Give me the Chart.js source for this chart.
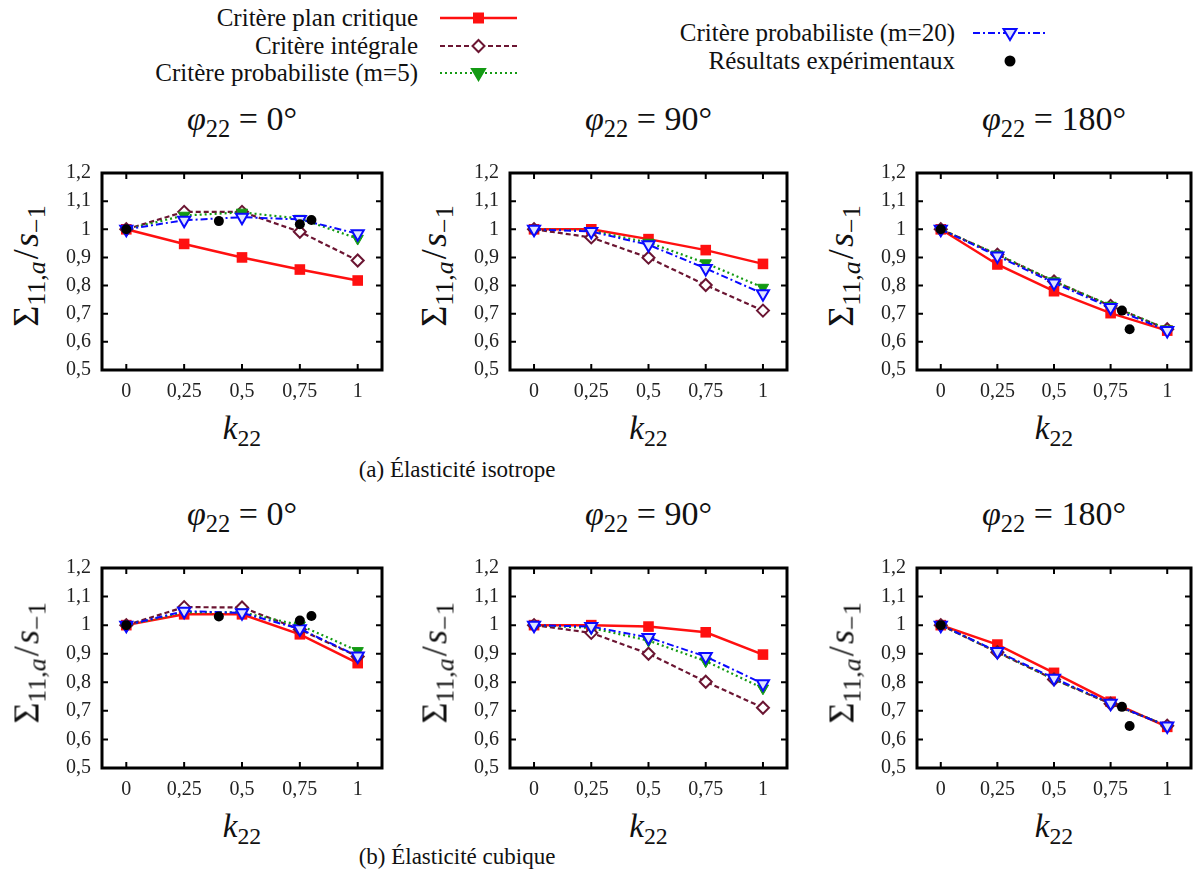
<!DOCTYPE html>
<html>
<head>
<meta charset="utf-8">
<script src="https://cdn.jsdelivr.net/npm/chart.js@4"></script>
<style>
  body { margin: 0; background: #fff; width: 1195px; height: 883px; overflow: hidden; position: relative; font-family: "Liberation Serif", "Times New Roman", "DejaVu Serif", serif; color: #111; }
  canvas { position: absolute; }
  .t { position: absolute; white-space: nowrap; line-height: 1; }
  .title { font-size: 34px; text-align: center; }
  .xt { font-size: 33px; text-align: center; }
  .yt { font-size: 36px; text-align: center; transform-origin: center center; transform: rotate(-90deg); }
  .cap { font-size: 23px; text-align: center; }
  .leg { font-size: 25px; text-align: right; }
  sub { font-size: 0.72em; vertical-align: -0.28em; line-height: 0; }
  .sl { margin: 0 0.06em; }
  svg { position: absolute; }
</style>
</head>
<body>
<script>
// k22 values shared by all panels
const k22 = [0, 0.25, 0.5, 0.75, 1];
const yTicks = [0.5, 0.6, 0.7, 0.8, 0.9, 1.0, 1.1, 1.2];

// (a) isotrope, phi = 0
const isoPhi0Plan = [1.0, 0.948, 0.900, 0.857, 0.818];
const isoPhi0Integ = [1.0, 1.062, 1.062, 0.991, 0.889];
const isoPhi0M5 = [1.0, 1.049, 1.060, 1.038, 0.967];
const isoPhi0M20 = [1.0, 1.032, 1.043, 1.035, 0.984];
const isoPhi0ExpK = [0, 0.40, 0.75, 0.80];
const isoPhi0ExpY = [1.0, 1.029, 1.018, 1.033];
// (a) isotrope, phi = 90
const isoPhi90Plan = [1.0, 1.0, 0.965, 0.926, 0.877];
const isoPhi90Integ = [1.0, 0.971, 0.899, 0.802, 0.711];
const isoPhi90M5 = [1.0, 0.995, 0.953, 0.880, 0.793];
const isoPhi90M20 = [1.0, 0.992, 0.945, 0.861, 0.771];
// (a) isotrope, phi = 180
const isoPhi180Plan = [1.0, 0.875, 0.780, 0.702, 0.640];
const isoPhi180Integ = [1.0, 0.910, 0.815, 0.728, 0.645];
const isoPhi180M5 = [1.0, 0.911, 0.816, 0.729, 0.645];
const isoPhi180M20 = [1.0, 0.905, 0.809, 0.722, 0.640];
const isoPhi180ExpK = [0, 0.80, 0.834];
const isoPhi180ExpY = [1.0, 0.711, 0.645];

// (b) cubique, phi = 0
const cubPhi0Plan = [1.0, 1.038, 1.038, 0.968, 0.867];
const cubPhi0Integ = [1.0, 1.063, 1.062, 0.985, 0.890];
const cubPhi0M5 = [1.0, 1.045, 1.045, 1.0, 0.910];
const cubPhi0M20 = [1.0, 1.049, 1.043, 0.987, 0.892];
const cubPhi0ExpK = [0, 0.40, 0.75, 0.80];
const cubPhi0ExpY = [1.0, 1.030, 1.016, 1.032];
// (b) cubique, phi = 90
const cubPhi90Plan = [1.0, 1.0, 0.995, 0.975, 0.897];
const cubPhi90Integ = [1.0, 0.973, 0.900, 0.802, 0.711];
const cubPhi90M5 = [1.0, 0.990, 0.946, 0.874, 0.779];
const cubPhi90M20 = [1.0, 0.995, 0.957, 0.890, 0.795];
// (b) cubique, phi = 180
const cubPhi180Plan = [1.0, 0.932, 0.833, 0.732, 0.644];
const cubPhi180Integ = [1.0, 0.905, 0.810, 0.725, 0.648];
const cubPhi180M5 = [1.0, 0.906, 0.811, 0.726, 0.648];
const cubPhi180M20 = [1.0, 0.908, 0.814, 0.727, 0.647];
const cubPhi180ExpK = [0, 0.80, 0.834];
const cubPhi180ExpY = [1.0, 0.714, 0.647];

const RED = '#ff1010', MAROON = '#6b1532', GREEN = '#139a13', BLUE = '#0a0aff';
const SERIF = '"Liberation Serif", "Times New Roman", "DejaVu Serif", serif';

function pts(xs, ys) { return xs.map((x, i) => ({x: x, y: ys[i]})); }
function comma(v) { return String(Math.round(v * 100) / 100).replace('.', ','); }

// box frame with inward ticks on all four sides, like gnuplot
const framePlugin = {
    id: 'frame',
    afterDraw(chart) {
        const ctx = chart.ctx, a = chart.chartArea, xs = chart.scales.x, ys = chart.scales.y;
        ctx.save();
        ctx.strokeStyle = '#000';
        ctx.lineWidth = 2;
        ctx.beginPath();
        xs.ticks.forEach(t => {
            const px = xs.getPixelForValue(t.value);
            ctx.moveTo(px, a.bottom); ctx.lineTo(px, a.bottom - 6);
            ctx.moveTo(px, a.top); ctx.lineTo(px, a.top + 6);
        });
        ys.ticks.forEach(t => {
            const py = ys.getPixelForValue(t.value);
            ctx.moveTo(a.left, py); ctx.lineTo(a.left + 6, py);
            ctx.moveTo(a.right, py); ctx.lineTo(a.right - 6, py);
        });
        ctx.stroke();
        ctx.lineWidth = 3;
        ctx.strokeRect(a.left, a.top, a.right - a.left, a.bottom - a.top);
        ctx.restore();
    }
};

function makePanel(L, T, W, H, plan, integ, m5, m20, expK, expY) {
    const c = document.createElement('canvas');
    c.width = W + 54; c.height = H + 36;
    c.style.left = (L - 50) + 'px';
    c.style.top = (T - 6) + 'px';
    document.body.appendChild(c);

    const datasets = [];
    if (expK) {
        datasets.push({data: pts(expK, expY), showLine: false, pointStyle: 'circle', pointRadius: 5,
            backgroundColor: '#000', borderColor: '#000', pointBorderWidth: 0});
    }
    datasets.push({data: pts(k22, m20), borderColor: BLUE, borderWidth: 2, borderDash: [7, 3, 2, 3],
        pointStyle: 'triangle', pointRotation: 180, pointRadius: 7, pointBorderWidth: 2,
        pointBorderColor: BLUE, pointBackgroundColor: '#dfe4ff'});
    datasets.push({data: pts(k22, m5), borderColor: GREEN, borderWidth: 2.2, borderDash: [2, 3],
        pointStyle: 'triangle', pointRotation: 180, pointRadius: 6.5, pointBorderWidth: 1,
        pointBorderColor: GREEN, pointBackgroundColor: GREEN});
    datasets.push({data: pts(k22, integ), borderColor: MAROON, borderWidth: 2.2, borderDash: [5, 3],
        pointStyle: 'rectRot', pointRadius: 6, pointBorderWidth: 2,
        pointBorderColor: MAROON, pointBackgroundColor: '#fff'});
    datasets.push({data: pts(k22, plan), borderColor: RED, borderWidth: 2.5,
        pointStyle: 'rect', pointRadius: 7.5, pointBorderWidth: 0,
        pointBorderColor: RED, pointBackgroundColor: RED});

    new Chart(c, {
        type: 'line',
        data: {datasets: datasets},
        options: {
            responsive: false,
            animation: false,
            devicePixelRatio: 1,
            layout: {padding: {top: 6, right: 4, left: 0, bottom: 0}, autoPadding: false},
            plugins: {legend: {display: false}, tooltip: {enabled: false}},
            elements: {line: {tension: 0}},
            datasets: {line: {clip: false}},
            scales: {
                x: {
                    type: 'linear', min: -0.105, max: 1.105,
                    afterBuildTicks: s => { s.ticks = k22.map(v => ({value: v})); },
                    afterFit: s => { s.height = 30; },
                    grid: {display: false, drawTicks: false},
                    border: {display: false},
                    ticks: {padding: 10, color: '#222', font: {family: SERIF, size: 20}, callback: v => comma(v), maxRotation: 0}
                },
                y: {
                    type: 'linear', min: 0.5, max: 1.2,
                    afterBuildTicks: s => { s.ticks = yTicks.map(v => ({value: v})); },
                    afterFit: s => { s.width = 50; },
                    grid: {display: false, drawTicks: false},
                    border: {display: false},
                    ticks: {padding: 11, color: '#222', font: {family: SERIF, size: 20}, callback: v => comma(v)}
                }
            }
        },
        plugins: [framePlugin]
    });

    // panel texts
    addText('xt', L, T + H + 42, W, '<i>k</i><sub>22</sub>');
    addText('yt', L - 76 - H / 2, T + H / 2 - 15, H, '&Sigma;<sub>11,<i>a</i></sub><span class="sl">/</span><i>s</i><sub>&minus;1</sub>');
}

function addText(cls, left, top, width, html) {
    const d = document.createElement('div');
    d.className = 't ' + cls;
    d.style.left = left + 'px';
    d.style.top = top + 'px';
    if (width) d.style.width = width + 'px';
    d.innerHTML = html;
    document.body.appendChild(d);
    return d;
}

const cols = [[102, 280], [510, 277], [917, 274]];
const titles = ['0°', '90°', '180°'];
const rows = [[156, 214], [551, 217]];

makePanel(cols[0][0], rows[0][0], cols[0][1], rows[0][1], isoPhi0Plan, isoPhi0Integ, isoPhi0M5, isoPhi0M20, isoPhi0ExpK, isoPhi0ExpY);
makePanel(cols[1][0], rows[0][0], cols[1][1], rows[0][1], isoPhi90Plan, isoPhi90Integ, isoPhi90M5, isoPhi90M20, null, null);
makePanel(cols[2][0], rows[0][0], cols[2][1], rows[0][1], isoPhi180Plan, isoPhi180Integ, isoPhi180M5, isoPhi180M20, isoPhi180ExpK, isoPhi180ExpY);
makePanel(cols[0][0], rows[1][0], cols[0][1], rows[1][1], cubPhi0Plan, cubPhi0Integ, cubPhi0M5, cubPhi0M20, cubPhi0ExpK, cubPhi0ExpY);
makePanel(cols[1][0], rows[1][0], cols[1][1], rows[1][1], cubPhi90Plan, cubPhi90Integ, cubPhi90M5, cubPhi90M20, null, null);
makePanel(cols[2][0], rows[1][0], cols[2][1], rows[1][1], cubPhi180Plan, cubPhi180Integ, cubPhi180M5, cubPhi180M20, cubPhi180ExpK, cubPhi180ExpY);

rows.forEach(r => {
    cols.forEach((c, i) => {
        addText('title', c[0], r[0] - 54, c[1], '<i>&phi;</i><sub>22</sub> = ' + titles[i]);
    });
});

addText('cap', 257, 458, 400, '(a) &Eacute;lasticit&eacute; isotrope');
addText('cap', 257, 845, 400, '(b) &Eacute;lasticit&eacute; cubique');

// legend
function legendEntry(rightX, cy, label, sx, sw, color, dash, marker, fill, width) {
    addText('leg', rightX - 400, cy - 13, 400, label);
    const svg = document.createElementNS('http://www.w3.org/2000/svg', 'svg');
    svg.setAttribute('width', sw + 20);
    svg.setAttribute('height', 24);
    svg.style.left = (sx - 10) + 'px';
    svg.style.top = (cy - 12) + 'px';
    const mx = 10 + sw / 2, my = 12;
    let s = '';
    if (color) s += `<line x1="10" y1="12" x2="${10 + sw}" y2="12" stroke="${color}" stroke-width="${width}" ${dash ? 'stroke-dasharray="' + dash + '"' : ''}/>`;
    if (marker === 'square') s += `<rect x="${mx - 5.5}" y="${my - 5.5}" width="11" height="11" fill="${color}"/>`;
    if (marker === 'diamond') s += `<polygon points="${mx},${my - 6} ${mx + 6},${my} ${mx},${my + 6} ${mx - 6},${my}" fill="#fff" stroke="${color}" stroke-width="2"/>`;
    if (marker === 'tri') s += `<polygon points="${mx - 6.5},${my - 4} ${mx + 6.5},${my - 4} ${mx},${my + 7}" fill="${fill}" stroke="${color}" stroke-width="2"/>`;
    if (marker === 'dot') s += `<circle cx="${mx}" cy="${my}" r="5.5" fill="#000"/>`;
    svg.innerHTML = s;
    document.body.appendChild(svg);
}
legendEntry(418, 18, 'Critère plan critique', 440, 77, RED, null, 'square', RED, 2.5);
legendEntry(418, 46, 'Critère intégrale', 440, 77, MAROON, '5,3', 'diamond', '#fff', 2.2);
legendEntry(418, 73, 'Critère probabiliste (m=5)', 440, 77, GREEN, '2,3', 'tri', GREEN, 2.2);
legendEntry(955, 33, 'Critère probabiliste (m=20)', 973, 74, BLUE, '7,3,2,3', 'tri', '#dfe4ff', 2);
legendEntry(955, 61, 'Résultats expérimentaux', 973, 74, null, null, 'dot', '#000', 0);
</script>
</body>
</html>
